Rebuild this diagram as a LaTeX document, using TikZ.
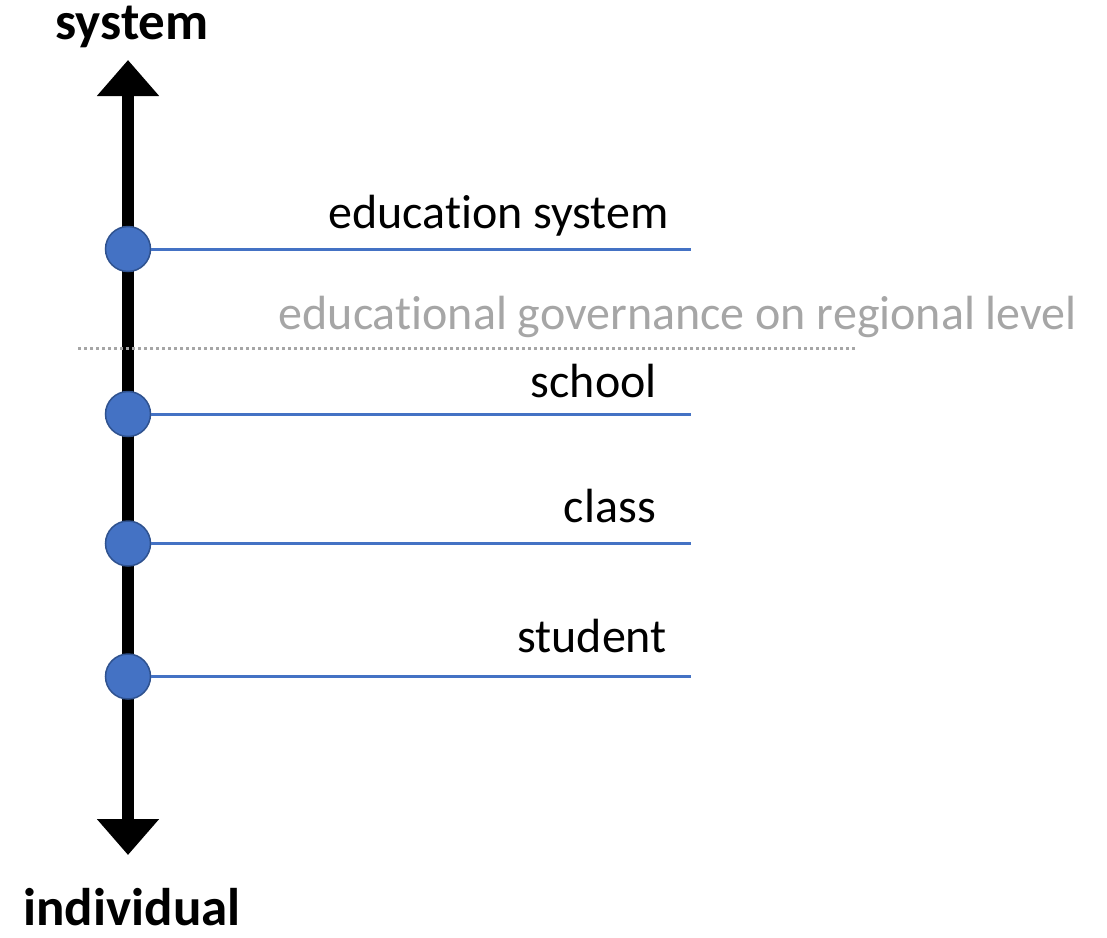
\documentclass[tikz,border=0pt]{standalone}
\usepackage{fontspec}
\setmainfont{Carlito}[Ligatures=NoCommon]
\usetikzlibrary{positioning, arrows.meta}
\definecolor{dotblue}{HTML}{4472C4}
\definecolor{dotrim}{HTML}{2F528F}
\definecolor{midgray}{HTML}{A6A6A6}

\begin{document}
\begin{tikzpicture}[x=1pt, y=-1pt, every node/.style={font=\fontsize{48}{58}\selectfont}]

  \tikzstyle{levdot}=[circle, draw=dotrim, fill=dotblue, line width=1.5pt, minimum size=45pt, inner sep=0pt]
  \tikzstyle{rung}=[draw=dotblue, line width=3pt]
  \tikzstyle{lvltext}=[anchor=base east, inner sep=0pt]
  \tikzstyle{pole}=[font=\fontsize{53}{63}\selectfont\bfseries, anchor=base, inner sep=0pt]
  \tikzstyle{axis}=[line width=11.5pt, {Triangle[width=60pt, length=36pt]}-{Triangle[width=60pt, length=36pt]}]

  \useasboundingbox (0,0) rectangle (1107,937);

  \node [pole] (top-lbl) at (132,39) {system};
  \node [pole] (bot-lbl) at (132,925) {individual};

  \coordinate (top) at (128,60);
  \coordinate (bottom) at (128,855);
  \draw [axis] (bottom) -- (top);

  \node [levdot] (sys) at (128,249) {};
  \node [levdot] (school) at (128,414) {};
  \node [levdot] (class) at (128,543.5) {};
  \node [levdot] (student) at (128,676.5) {};

  \coordinate (sys-end) at (691,249);
  \coordinate (school-end) at (691,414);
  \coordinate (class-end) at (691,543.5);
  \coordinate (student-end) at (691,676.5);

  \draw [rung] (sys) -- (sys-end);
  \draw [rung] (school) -- (school-end);
  \draw [rung] (class) -- (class-end);
  \draw [rung] (student) -- (student-end);

  \node [lvltext] (sys-txt) at ([shift={(-22,-21)}]sys-end) {education system};
  \node [lvltext] (school-txt) at ([shift={(-34,-17)}]school-end) {school};
  \node [lvltext] (class-txt) at ([shift={(-35,-21)}]class-end) {class};
  \node [lvltext] (student-txt) at ([shift={(-24,-24)}]student-end) {student};

  % regional level sits between system and school
  \coordinate (sep-l) at (78,348);
  \coordinate (sep-r) at (857,348);
  \draw [midgray, line width=3pt, dash pattern=on 3pt off 3pt] (sep-l) -- (sep-r);
  \node [lvltext, text=midgray] (region-txt) at (1077,329) {educational governance on regional level};

\end{tikzpicture}
\end{document}
